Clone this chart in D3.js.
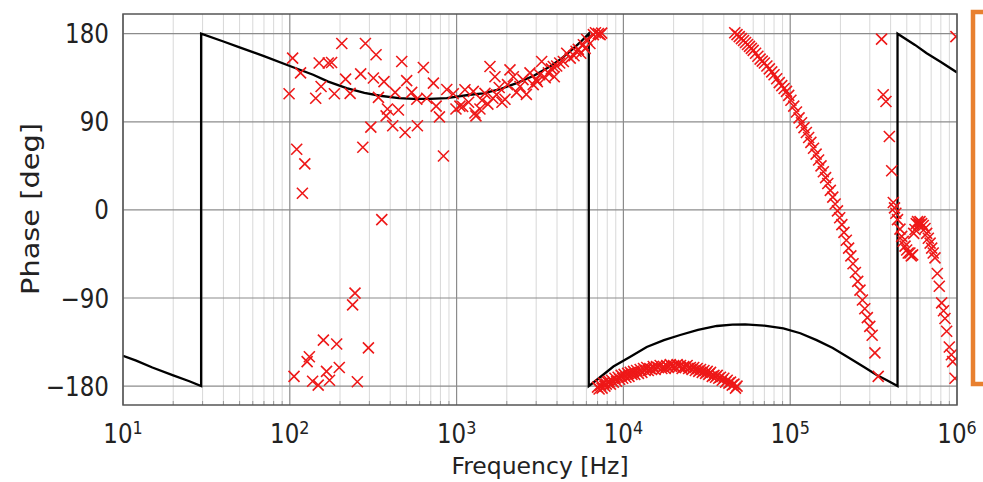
<!DOCTYPE html>
<meta charset="utf-8">
<script src="https://d3js.org/d3.v7.min.js"></script>
<style>
  body { margin: 0; background: #fff; }
  text { font-family: "DejaVu Sans", sans-serif; fill: #222; }
</style>
<div id="chart"></div>
<script>

// model phase curve (black line)
const modelHz = [10, 12, 15, 20, 25, 29.4, 29.4, 40, 50, 70, 100, 138, 170, 219, 280, 347, 450, 551, 692, 873,
  1202, 1445, 1800, 2291, 2900, 3631, 4200, 4786, 5500, 6200, 6200, 7000, 8710, 11000, 13800, 17500, 21900,
  28000, 36300, 45000, 53700, 70000, 91000, 115000, 144000, 180000, 228600, 280000, 330000, 380000, 440000,
  440000, 560000, 658000, 800000, 1000000];
const modelDeg = [-149, -154, -161, -169, -175, -180, 180, 172, 166, 157, 147, 138, 131, 124.4, 119.5, 116.6, 114.2, 113.5, 113.3, 114.2,
  117.6, 119, 123, 129.5, 137, 146.5, 154, 162, 171, 180, -180, -173, -160, -150, -140, -133, -127.8,
  -122.5, -118.6, -117.2, -116.9, -118.3, -121, -126, -133, -141, -151.7, -161, -168.7, -174, -180,
  180, 168.5, 160, 151, 140.4];

// measured phase (red crosses)
const measHz = [
  99, 104, 106, 110, 116, 119, 123, 127, 131, 137, 143, 148, 150, 154, 159, 166, 170, 173, 178, 185, 191, 198,
  205, 216, 230, 238, 246, 254, 266, 274, 284, 296, 306, 317, 329, 340, 356, 367, 378, 385, 414, 428, 448,
  469, 491, 502, 538, 577, 582, 632, 662, 726, 754, 789, 834, 873, 955, 991,
  1047, 1087, 1122, 1180, 1259, 1288, 1306, 1380, 1420, 1479, 1540, 1585, 1650, 1698, 1738, 1800, 1870, 1950,
  2020, 2089, 2188, 2290, 2399, 2500, 2620, 2754, 2880, 3000, 3048, 3150, 3236, 3400, 3548, 3700, 3800, 3850,
  3981, 4150, 4365, 4571, 4800, 5058, 5200, 5370, 5550, 5754, 5900, 6026, 6300, 6607, 6800, 7080, 7250, 7413,
  7000, 7150, 7300, 7600, 7750, 7900, 8200, 8350, 8500, 8900, 9100, 9300, 9700, 9900, 10100, 10600, 10800,
  11000, 11500, 11700, 12000, 12600, 12900, 13200, 13800, 14100, 14400, 15100, 15500, 15800, 16600, 17000,
  17400, 18200, 18600, 19100, 20000, 20500, 21000, 22000, 22500, 23000, 24100, 24600, 25200, 26400, 27000,
  27700, 29000, 29700, 30400, 31800, 32500, 33300, 34900, 35700, 36500, 38200, 39100, 40000, 41900, 42900,
  43900, 46000, 47000, 48000,
  7450, 8050, 8700, 9500, 10350, 11250, 12300, 13500, 14750, 16200, 17800, 19500, 21500, 23500, 25800,
  28300, 31100, 34100, 37300, 41000, 44900,
  46500, 48000, 49500, 51000, 52500, 54000, 55500, 57000, 58500, 60000, 62000, 64000, 66000, 68000, 70000,
  72500, 75000, 77500, 80000, 83000, 86000, 89000, 92000, 95000, 98000, 101000, 105000, 109000, 113000,
  117000, 121000, 125000, 129000, 133000, 138000, 143000, 148000, 153000, 158000, 163000, 168000, 174000,
  180000, 186000, 192000, 198000, 204000, 210000, 217000, 224000, 231000, 238000, 246000, 254000, 262000,
  271000, 280000, 290000, 300000, 310000, 322000, 337000,
  353000, 361000, 375000, 393000, 406000, 415000, 422000, 430000, 440000, 455000, 466000, 476000, 488000,
  499000, 510000, 522000, 532000, 542000, 550000, 560000, 570000, 580000, 592000, 600000, 614000, 628000,
  643000, 658000, 673000, 690000, 705000, 720000, 738000, 762000, 783000, 809000, 830000, 847000, 867000,
  899000, 925000, 942000, 973000, 985000];
const measDeg = [
  118.6, 155, -170, 62, 140, 17, 47, -155, -150, -175, 114, -179, 150, 126, -133, -165, 150, -174, 150.6, 118.6, -137, -161,
  170, 133.6, 119, -97, -85, -175.5, 139, 64, 170, -141, 84.6, 134.7, 158.5, 115, -10, 131, 96, 103, 86, 120, 102,
  151.6, 79, 132, 120, 113, 86, 145.5, 114, 129.5, 106, 95, 55, 123, 118.6, 103,
  106, 105.6, 122.7, 110, 121, 99, 96, 103, 112, 119, 108, 146.5, 114, 136, 117.6, 125, 110, 113,
  128, 143, 136, 120, 126, 133, 118, 140, 128, 133, 131, 138, 151.6, 135, 140, 144, 146.5, 136,
  147, 150, 151.6, 160, 155, 157.5, 162, 164, 160, 168.7, 165, 174, 170, 179, 181, 180, 179, 180.5,
  -181, -183, -179, -177, -180, -178, -175, -178, -174, -172, -175, -171, -169, -172, -168, -167, -170,
  -166, -165, -168, -164, -163, -166, -162, -161, -164, -162, -160, -163, -160, -159, -162,
  -160, -159, -161, -158, -159, -161, -158, -159, -162, -160, -159, -162, -161, -161, -164,
  -162, -163, -166, -164, -165, -168, -166, -169, -171, -169, -171, -174, -172, -174, -177,
  -176, -178, -182, -180,
  -182, -176, -176, -173, -171, -168, -167, -164, -163, -161, -162, -160, -160, -161, -163,
  -165, -167, -170, -172, -176, -179,
  181, 179, 177, 175, 173, 171, 169, 167, 165, 163, 160, 157, 154, 152, 150,
  147, 144, 141, 138, 134, 130, 127, 124, 121, 117, 112, 106, 100, 94,
  89, 84, 79, 74, 69, 63, 57, 51, 45, 39, 33, 27, 20,
  13, 6, -1, -8, -15, -23, -31, -39, -47, -55, -64, -73, -82,
  -92, -101, -110, -119, -128, -146, -170,
  174.5, 117.6, 110.7, 75, 40, 7.5, 2, -3.4, -10, -19.7, -27, -32, -37,
  -41, -44, -44, -47, -46, -24, -20, -14, -12, -15, -12, -14, -16,
  -19, -24, -29, -34, -39, -44, -49, -65, -78, -95, -103, -111, -124,
  -140, -148, -155, -172, 177];

const yTicks = [-180, -90, 0, 90, 180];
const yTickText = ["\u2212180", "\u221290", "0", "90", "180"];
const xDecades = [1, 2, 3, 4, 5, 6];

const margin = {top: 14, right: 26, bottom: 77, left: 123},
    width = 983 - margin.left - margin.right,
    height = 482 - margin.top - margin.bottom;

const root = d3.select("#chart")
  .append("svg")
    .attr("width", 983)
    .attr("height", 482);

// orange frame peeking in at the right
root.append("rect")
  .attr("x", 973).attr("y", 12)
  .attr("width", 40).attr("height", 372)
  .attr("fill", "#fff")
  .attr("stroke", "#e8802f")
  .attr("stroke-width", 4.5);

const svg = root.append("g")
  .attr("transform", `translate(${margin.left},${margin.top})`);

const x = d3.scaleLog().domain([10, 1e6]).range([0, width]);
const y = d3.scaleLinear().domain([-199.3, 200.1]).range([height, 0]);

svg.append("clipPath").attr("id", "clip")
  .append("rect").attr("width", width).attr("height", height);

// minor grid
const minor = x.ticks().filter(v => Math.abs(Math.log10(v) - Math.round(Math.log10(v))) > 1e-6);
svg.selectAll(".minor")
  .data(minor)
  .join("line")
    .attr("x1", d => x(d)).attr("x2", d => x(d))
    .attr("y1", 0).attr("y2", height)
    .attr("stroke", "#d8d8d8")
    .attr("stroke-width", 1);

// minor ticks (inside, bottom)
svg.selectAll(".mtick")
  .data(minor)
  .join("line")
    .attr("x1", d => x(d)).attr("x2", d => x(d))
    .attr("y1", height - 4).attr("y2", height)
    .attr("stroke", "#999");

// major grid
svg.selectAll(".vmaj")
  .data(xDecades)
  .join("line")
    .attr("x1", d => x(Math.pow(10, d))).attr("x2", d => x(Math.pow(10, d)))
    .attr("y1", 0).attr("y2", height)
    .attr("stroke", "#8c8c8c")
    .attr("stroke-width", 1.2);

svg.selectAll(".hmaj")
  .data(yTicks)
  .join("line")
    .attr("x1", 0).attr("x2", width)
    .attr("y1", d => y(d)).attr("y2", d => y(d))
    .attr("stroke", "#8c8c8c")
    .attr("stroke-width", 1.2);

// model line
const model = modelHz.map((f, i) => [f, modelDeg[i]]);
svg.append("path")
  .datum(model)
  .attr("clip-path", "url(#clip)")
  .attr("fill", "none")
  .attr("stroke", "#000")
  .attr("stroke-width", 2.3)
  .attr("d", d3.line().x(d => x(d[0])).y(d => y(d[1])));

// measured crosses
const meas = measHz.map((f, i) => [f, measDeg[i]]);
svg.append("g")
  .attr("clip-path", "url(#clip)")
  .selectAll("path")
  .data(meas)
  .join("path")
    .attr("transform", d => `translate(${x(d[0])},${y(d[1])})`)
    .attr("d", "M-5.5,-5.5L5.5,5.5M-5.5,5.5L5.5,-5.5")
    .attr("fill", "none")
    .attr("stroke", "#ee1818")
    .attr("stroke-width", 1.6);

// frame
svg.append("rect")
  .attr("width", width).attr("height", height)
  .attr("fill", "none")
  .attr("stroke", "#555")
  .attr("stroke-width", 1.5);

// y tick labels
svg.selectAll(".ylab")
  .data(yTicks)
  .join("g")
    .attr("transform", d => `translate(-14,${y(d)}) scale(1,1.15)`)
  .append("text")
    .attr("text-anchor", "end")
    .attr("dy", "0.36em")
    .attr("font-size", 23)
    .text((d, i) => yTickText[i]);

// x tick labels 10^n
const xl = svg.selectAll(".xlab")
  .data(xDecades)
  .join("g")
    .attr("transform", d => `translate(${x(Math.pow(10, d))},${height + 38}) scale(1,1.15)`)
  .append("text")
    .attr("text-anchor", "middle")
    .attr("font-size", 23);
xl.append("tspan").text("10");
xl.append("tspan").attr("font-size", 16).attr("dy", -8).text(d => d);

// axis titles
svg.append("g")
  .attr("transform", `translate(${540 - margin.left},${474 - margin.top})`)
  .append("text")
    .attr("text-anchor", "middle")
    .attr("font-size", 23.5)
    .text("Frequency [Hz]");

svg.append("g")
  .attr("transform", `translate(${39 - margin.left},${209 - margin.top}) scale(1,1.2) rotate(-90)`)
  .append("text")
    .attr("text-anchor", "middle")
    .attr("font-size", 24)
    .text("Phase [deg]");

</script>
